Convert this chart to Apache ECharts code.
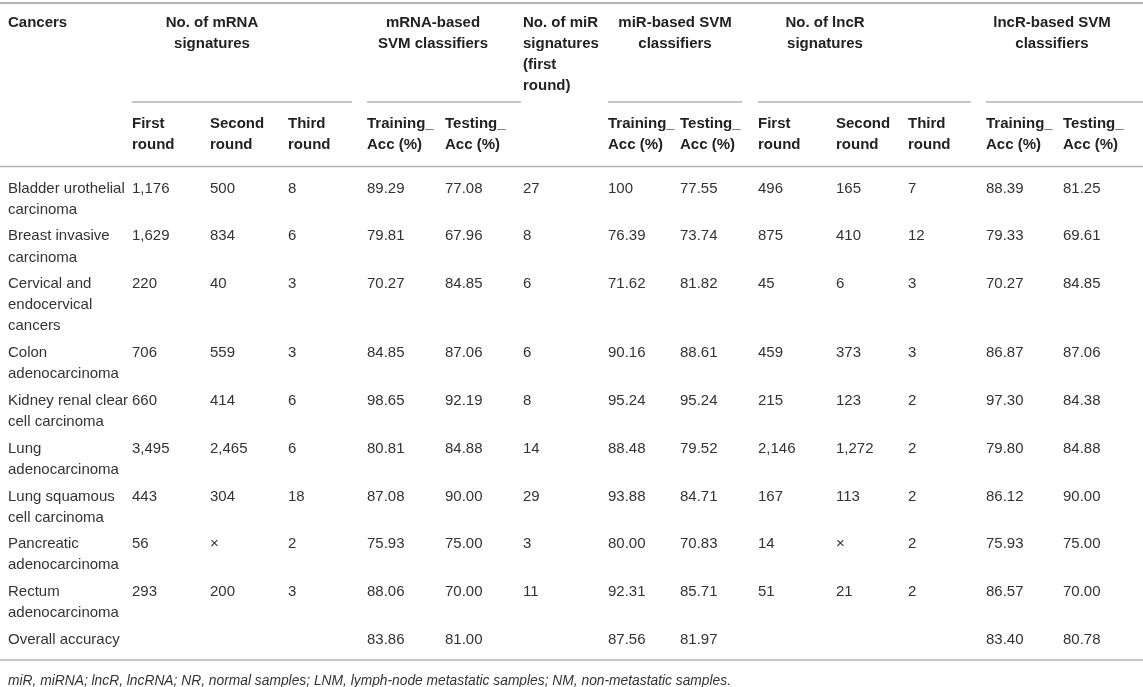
<!DOCTYPE html>
<html><head><meta charset="utf-8">
<script src="https://cdn.jsdelivr.net/npm/echarts@6/dist/echarts.min.js"></script>
<style>html,body{margin:0;padding:0;background:#fff}#c{width:1143px;height:687px}</style>
</head><body><div id="c"></div>
<script>
// ---------- DATA ----------
const cancers = ['Bladder urothelial\ncarcinoma','Breast invasive\ncarcinoma','Cervical and\nendocervical\ncancers','Colon\nadenocarcinoma','Kidney renal clear\ncell carcinoma','Lung\nadenocarcinoma','Lung squamous\ncell carcinoma','Pancreatic\nadenocarcinoma','Rectum\nadenocarcinoma','Overall accuracy'];
const mrnaFirst  = ['1,176','1,629','220','706','660','3,495','443','56','293',''];
const mrnaSecond = ['500','834','40','559','414','2,465','304','×','200',''];
const mrnaThird  = ['8','6','3','3','6','6','18','2','3',''];
const mrnaTrain  = ['89.29','79.81','70.27','84.85','98.65','80.81','87.08','75.93','88.06','83.86'];
const mrnaTest   = ['77.08','67.96','84.85','87.06','92.19','84.88','90.00','75.00','70.00','81.00'];
const mirFirst   = ['27','8','6','6','8','14','29','3','11',''];
const mirTrain   = ['100','76.39','71.62','90.16','95.24','88.48','93.88','80.00','92.31','87.56'];
const mirTest    = ['77.55','73.74','81.82','88.61','95.24','79.52','84.71','70.83','85.71','81.97'];
const lncFirst   = ['496','875','45','459','215','2,146','167','14','51',''];
const lncSecond  = ['165','410','6','373','123','1,272','113','×','21',''];
const lncThird   = ['7','12','3','3','2','2','2','2','2',''];
const lncTrain   = ['88.39','79.33','70.27','86.87','97.30','79.80','86.12','75.93','86.57','83.40'];
const lncTest    = ['81.25','69.61','84.85','87.06','84.38','84.88','90.00','75.00','70.00','80.78'];

const groupHeaders = ['Cancers','No. of mRNA\nsignatures','mRNA-based\nSVM classifiers','No. of miR\nsignatures\n(first\nround)','miR-based SVM\nclassifiers','No. of lncR\nsignatures','lncR-based SVM\nclassifiers'];
const subHeaders = ['','First\nround','Second\nround','Third\nround','Training_\nAcc (%)','Testing_\nAcc (%)','','Training_\nAcc (%)','Testing_\nAcc (%)','First\nround','Second\nround','Third\nround','Training_\nAcc (%)','Testing_\nAcc (%)'];
const footnote = 'miR, miRNA; lncR, lncRNA; NR, normal samples; LNM, lymph-node metastatic samples; NM, non-metastatic samples.';

// ---------- LAYOUT ----------
const W = 1143, H = 687;
const FONT = '"Liberation Sans", Arial, Helvetica, sans-serif';
const TXT = '#333333', HEAD_TXT = '#222222', RULE = '#b4b4b4';
const colX = [8,132,210,288,367,445,523,608,680,758,836,908,986,1063];
// group header anchors: [x, align]
const groupAnchor = [[8,'left'],[212,'center'],[433,'center'],[523,'left'],[675,'center'],[825,'center'],[1052,'center']];
const groupRules = [[132,352],[367,521],[608,742],[758,971],[986,1143]];
const LINE = 21.1, ROW_PAD = 5.6, HEAD_Y = 22.5, SUB_Y = 123.5, BODY_Y = 188.5;
const RULE_TOP = 3, RULE_HEAD = 166.5, RULE_GROUP = 102, RULE_BOTTOM = 660, FOOT_Y = 681.5;

const columns = [cancers, mrnaFirst, mrnaSecond, mrnaThird, mrnaTrain, mrnaTest, mirFirst, mirTrain, mirTest, lncFirst, lncSecond, lncThird, lncTrain, lncTest];

// row top positions from the number of text lines in each row
const rowY = [];
let yAcc = BODY_Y;
cancers.forEach((c, r) => {
  rowY.push(yAcc);
  let n = 1;
  columns.forEach(col => { n = Math.max(n, String(col[r]).split('\n').length); });
  yAcc += n * LINE + ROW_PAD;
});

function textGroup(api, str, x, y, align, weight, style, size, color) {
  return {
    type: 'group',
    children: String(str).split('\n').map((t, i) => {
      const p = api.coord([x, y + i * LINE]);
      return { type: 'text', style: { text: t, x: p[0], y: p[1], align: align, verticalAlign: 'middle',
        fontFamily: FONT, fontSize: size || 15, fontWeight: weight || 'normal', fontStyle: style || 'normal', fill: color || TXT } };
    })
  };
}

// cells
const bodyData = [];
columns.forEach((col, c) => col.forEach((v, r) => bodyData.push([c, r])));
const headData = groupHeaders.map((h, i) => [i]);
const subData = subHeaders.map((h, i) => [i]);
const ruleData = [[0, W, RULE_TOP, 2.2], [0, W, RULE_HEAD, 1.5], [0, W, RULE_BOTTOM, 1.5]]
  .concat(groupRules.map(g => [g[0], g[1], RULE_GROUP, 1.5]));

const chart = echarts.init(document.getElementById('c'), null, { renderer: 'canvas' });
chart.setOption({
  backgroundColor: '#ffffff',
  animation: false,
  grid: { left: 0, right: 0, top: 0, bottom: 0 },
  xAxis: { type: 'value', min: 0, max: W, show: false },
  yAxis: { type: 'value', min: 0, max: H, inverse: true, show: false },
  series: [
    { type: 'custom', silent: true, clip: false, data: ruleData,
      renderItem: (params, api) => {
        const a = api.coord([api.value(0), api.value(2)]);
        const b = api.coord([api.value(1), api.value(2)]);
        return { type: 'line', shape: { x1: a[0], y1: a[1], x2: b[0], y2: b[1] },
          style: { stroke: RULE, lineWidth: api.value(3) } };
      } },
    { type: 'custom', silent: true, clip: false, data: headData,
      renderItem: (params, api) => {
        const i = api.value(0);
        return textGroup(api, groupHeaders[i], groupAnchor[i][0], HEAD_Y, groupAnchor[i][1], 'bold', 'normal', 15, HEAD_TXT);
      } },
    { type: 'custom', silent: true, clip: false, data: subData,
      renderItem: (params, api) => {
        const i = api.value(0);
        return textGroup(api, subHeaders[i], colX[i], SUB_Y, 'left', 'bold', 'normal', 15, HEAD_TXT);
      } },
    { type: 'custom', silent: true, clip: false, data: bodyData,
      renderItem: (params, api) => {
        const c = api.value(0), r = api.value(1);
        return textGroup(api, columns[c][r], colX[c], rowY[r], 'left');
      } },
    { type: 'custom', silent: true, clip: false, data: [[0]],
      renderItem: (params, api) => textGroup(api, footnote, 8, FOOT_Y, 'left', 'normal', 'italic', 13.8) }
  ]
});
</script>
</body></html>
